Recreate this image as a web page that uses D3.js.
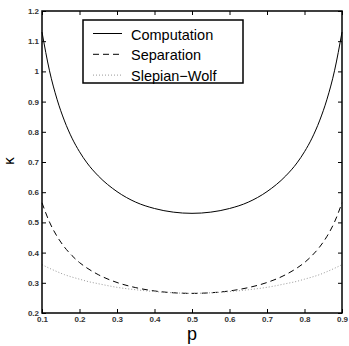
<!DOCTYPE html>
<html><head><meta charset="utf-8">
<script src="https://cdn.jsdelivr.net/npm/d3@7"></script>
<style>body{margin:0;background:#fff}svg{display:block}</style>
</head><body>
<svg id="c" width="349" height="346"></svg>
<script>
const pValues = [0.10,0.12,0.14,0.16,0.18,0.20,0.22,0.25,0.30,0.35,0.40,0.45,0.50,0.55,0.60,0.65,0.70,0.75,0.78,0.80,0.82,0.84,0.86,0.88,0.90];
const computation = [1.130,1.002,0.908,0.836,0.779,0.734,0.697,0.654,0.602,0.567,0.546,0.534,0.530,0.534,0.546,0.567,0.602,0.654,0.697,0.734,0.779,0.836,0.908,1.002,1.130];
const separation = [0.565,0.501,0.454,0.418,0.390,0.367,0.349,0.327,0.301,0.284,0.273,0.267,0.265,0.267,0.273,0.284,0.301,0.327,0.349,0.367,0.390,0.418,0.454,0.501,0.565];
const slepianWolf = [0.360,0.348,0.337,0.327,0.319,0.312,0.305,0.297,0.285,0.277,0.271,0.267,0.265,0.267,0.271,0.277,0.285,0.297,0.305,0.312,0.319,0.327,0.337,0.348,0.360];
const xTicks = [0.1,0.2,0.3,0.4,0.5,0.6,0.7,0.8,0.9];
const yTicks = [0.2,0.3,0.4,0.5,0.6,0.7,0.8,0.9,1,1.1,1.2];
const seriesNames = ["Computation","Separation","Slepian\u2212Wolf"];

const L=42,R=342,T=11,B=313;
const svg=d3.select("#c");
const x=d3.scaleLinear().domain([0.1,0.9]).range([L,R]);
const y=d3.scaleLinear().domain([0.2,1.2]).range([B,T]);
const font="Liberation Sans, Arial, Helvetica, sans-serif";

const styles=[
 {stroke:"#000",dash:null,w:1},
 {stroke:"#000",dash:"6,4",w:1},
 {stroke:"#999",dash:"1,2",w:1}
];
const data=[computation,separation,slepianWolf];
const line=d3.line().x((d,i)=>x(pValues[i])).y(d=>y(d)).curve(d3.curveMonotoneX);
data.forEach((s,k)=>{
  svg.append("path").attr("d",line(s)).attr("fill","none")
   .attr("stroke",styles[k].stroke).attr("stroke-width",styles[k].w)
   .attr("stroke-dasharray",styles[k].dash);
});

function style(g){
  g.select(".domain").remove();
  g.selectAll("line").attr("stroke","#000");
  g.selectAll("text").attr("font-family",font).attr("font-size",8).attr("fill","#333").attr("font-weight","bold");
}
svg.append("g").attr("transform",`translate(0,${B})`).call(d3.axisBottom(x).tickValues(xTicks).tickSize(-4).tickPadding(3).tickFormat(d3.format(".1f"))).call(style);
svg.append("g").attr("transform",`translate(0,${T})`).call(d3.axisTop(x).tickValues(xTicks).tickSize(-4).tickFormat("")).call(style);
svg.append("g").attr("transform",`translate(${L},0)`).call(d3.axisLeft(y).tickValues(yTicks).tickSize(-4).tickPadding(3).tickFormat(d=>d3.format("")(+d.toFixed(1)))).call(style);
svg.append("g").attr("transform",`translate(${R},0)`).call(d3.axisRight(y).tickValues(yTicks).tickSize(-4).tickFormat("")).call(style);
svg.append("rect").attr("x",L).attr("y",T).attr("width",R-L).attr("height",B-T).attr("fill","none").attr("stroke","#000").attr("stroke-width",1.5);

svg.append("text").attr("x",(L+R)/2).attr("y",340).attr("text-anchor","middle").attr("font-family",font).attr("font-size",18).text("p");
svg.append("text").attr("transform","translate(14,161) rotate(-90)").attr("text-anchor","middle").attr("font-family",font).attr("font-size",15).text("\u03ba");

const lg=svg.append("g");
lg.append("rect").attr("x",83).attr("y",20).attr("width",160).attr("height",63).attr("fill","#fff").attr("stroke","#000").attr("stroke-width",1.5);
seriesNames.forEach((n,k)=>{
  const yy=33.5+k*20.8;
  lg.append("line").attr("x1",93).attr("x2",122).attr("y1",yy).attr("y2",yy)
   .attr("stroke",styles[k].stroke).attr("stroke-width",1).attr("stroke-dasharray",styles[k].dash);
  lg.append("text").attr("x",131).attr("y",yy+6).attr("font-family",font).attr("font-size",14.5).text(n);
});
</script>
</body></html>
